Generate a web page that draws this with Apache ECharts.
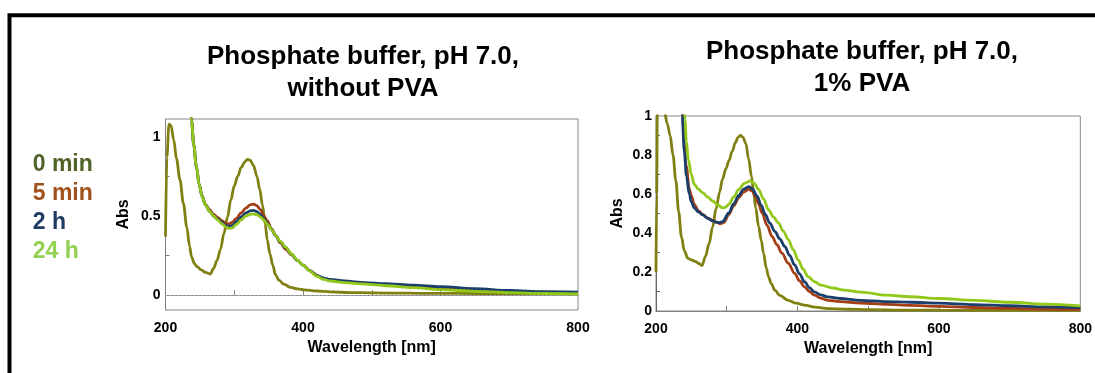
<!DOCTYPE html>
<html><head><meta charset="utf-8">
<script src="https://cdn.jsdelivr.net/npm/echarts@6/dist/echarts.min.js"></script>
<style>html,body{margin:0;padding:0;background:#fff}#c{width:1095px;height:373px}</style>
</head><body><div id="c"></div>
<script>
// ---- labels ----
const seriesNames = ['0 min', '5 min', '2 h', '24 h'];
const titleLeft = 'Phosphate buffer, pH 7.0,\nwithout PVA';
const titleRight = 'Phosphate buffer, pH 7.0,\n1% PVA';
const xName = 'Wavelength [nm]';
const yName = 'Abs';
const xTickLabels = [200, 400, 600, 800];
const yTickLabelsLeft = [0, 0.5, 1];
const yTickLabelsRight = [0, 0.2, 0.4, 0.6, 0.8, 1];

// ---- left panel: without PVA ----
const L0_wl = [200,202,205,208,212,216,221,226,231,235,238,242,246,252,258,265,270,275,280,285,290,295,300,305,310,315,319,323,328,333,337,341,345,348,352,356,360,365,372,382,392,402,420,440,470,500,550,600,650,700,750,800];
const L0_abs = [0.37,0.87,1.08,1.07,0.98,0.86,0.73,0.58,0.43,0.31,0.24,0.2,0.18,0.16,0.145,0.134,0.17,0.22,0.29,0.39,0.49,0.6,0.69,0.75,0.805,0.84,0.857,0.852,0.82,0.75,0.67,0.57,0.45,0.35,0.26,0.19,0.13,0.095,0.07,0.05,0.04,0.034,0.027,0.021,0.017,0.015,0.013,0.012,0.011,0.01,0.01,0.01];

const L5_wl = [234,238,241,245,249,253,258,264,270,276,282,288,292,297,303,310,317,323,328,333,338,343,348,354,360,367,375,383,392,400,410,416,420,430,440,460,490,520,560,600,650,700,750,800];
const L5_abs = [1.3,1.1,0.95,0.81,0.7,0.63,0.575,0.54,0.51,0.49,0.47,0.455,0.45,0.46,0.485,0.52,0.55,0.57,0.575,0.565,0.54,0.5,0.47,0.42,0.38,0.33,0.29,0.255,0.22,0.19,0.155,0.139,0.125,0.105,0.095,0.085,0.075,0.066,0.055,0.045,0.034,0.025,0.018,0.015];

const L2_wl = [234,238,241,245,249,253,258,264,270,276,282,288,292,297,303,310,317,323,328,333,338,343,348,354,360,367,375,383,392,400,410,420,430,440,460,490,520,560,600,650,700,750,800];
const L2_abs = [1.3,1.1,0.95,0.81,0.7,0.625,0.57,0.53,0.5,0.48,0.46,0.44,0.433,0.44,0.465,0.495,0.52,0.532,0.535,0.528,0.51,0.485,0.455,0.415,0.378,0.338,0.3,0.26,0.22,0.19,0.155,0.125,0.108,0.1,0.09,0.08,0.073,0.064,0.055,0.042,0.03,0.023,0.02];

const L24_wl = [235,238,241,245,249,253,258,264,270,276,282,288,292,297,303,310,317,323,328,333,338,343,348,354,360,367,375,383,392,400,410,420,430,440,460,490,520,560,600,650,700,750,800];
const L24_abs = [1.25,1.1,0.95,0.81,0.7,0.625,0.57,0.53,0.5,0.475,0.45,0.43,0.422,0.425,0.447,0.475,0.5,0.51,0.513,0.508,0.495,0.475,0.45,0.415,0.38,0.34,0.302,0.262,0.222,0.19,0.152,0.12,0.1,0.09,0.08,0.07,0.06,0.048,0.035,0.025,0.017,0.011,0.008];

// ---- right panel: 1% PVA ----
const R0_wl = [200,201,202,205,209,212,216,220,224,228,232,236,240,245,250,256,261,265,270,275,280,285,290,294,299,303,308,312,316,319.5,323,327,331,335,338,341,345,349,352,356,359,363,368,375,387,398,410,425,443,470,500,550,600,700,800];
const R0_abs = [0.2,0.6,1.1,1.2,1.1,1.02,0.96,0.9,0.8,0.67,0.51,0.38,0.31,0.27,0.262,0.253,0.243,0.233,0.28,0.345,0.43,0.525,0.61,0.676,0.73,0.77,0.82,0.862,0.89,0.9,0.89,0.86,0.78,0.69,0.607,0.53,0.435,0.36,0.297,0.22,0.176,0.14,0.107,0.08,0.055,0.04,0.03,0.02,0.012,0.009,0.007,0.005,0.004,0.003,0.003];

const R5_wl = [236,238,240,242.6,247.3,250,254,260,266,273,280,286,291,296,303,310,317,324,331,336,340.5,345,350,357,364,371,378,387,396,403,410,417,424,433,443,460,489,526,560,600,650,700,750,800];
const R5_abs = [1.15,0.98,0.86,0.745,0.624,0.59,0.547,0.515,0.495,0.478,0.465,0.455,0.448,0.455,0.495,0.54,0.581,0.61,0.624,0.615,0.589,0.55,0.503,0.44,0.383,0.34,0.297,0.245,0.193,0.155,0.124,0.1,0.081,0.066,0.055,0.048,0.041,0.034,0.029,0.024,0.018,0.013,0.01,0.008];

const R2_wl = [235,237,240,243,247,250,254,260,266,273,280,285,289,294,303,310,317,324,331,336,343,349,354.5,361,368,375,382,389,396,403,410,417,424,433,443,460,489,526,560,600,650,700,750,800];
const R2_abs = [1.15,1.0,0.82,0.693,0.6,0.56,0.529,0.508,0.493,0.475,0.462,0.456,0.453,0.458,0.503,0.55,0.593,0.625,0.638,0.628,0.589,0.54,0.495,0.45,0.408,0.37,0.331,0.285,0.236,0.19,0.15,0.12,0.098,0.083,0.072,0.064,0.055,0.048,0.045,0.04,0.033,0.027,0.021,0.017];

const R24_wl = [239,241,243,245.6,250,254,260,266,273,280,287,293.8,298,303,310,317,325,333.5,339,345,352,359,366,373,380,387,394,401,408,415,424,433,450,466,490,526,560,600,650,700,750,800];
const R24_abs = [1.15,0.98,0.87,0.779,0.7,0.65,0.625,0.607,0.585,0.564,0.545,0.529,0.532,0.547,0.585,0.624,0.655,0.667,0.655,0.624,0.575,0.52,0.482,0.452,0.41,0.366,0.315,0.262,0.215,0.176,0.15,0.133,0.118,0.107,0.097,0.081,0.073,0.064,0.055,0.045,0.035,0.026];

// ---- styling ----
const lineColors = ['#808012', '#a33e16', '#1b3f6c', '#92c81a'];
const legendColors = ['#4f6228', '#a0521c', '#1f3b63', '#92d050'];
const FONT = 'Liberation Sans, Arial, sans-serif';

function pairs(xs, ys) { return xs.map((x, i) => [x, ys[i]]); }

const leftData = [pairs(L0_wl, L0_abs), pairs(L5_wl, L5_abs), pairs(L2_wl, L2_abs), pairs(L24_wl, L24_abs)];
const rightData = [pairs(R0_wl, R0_abs), pairs(R5_wl, R5_abs), pairs(R2_wl, R2_abs), pairs(R24_wl, R24_abs)];

const labelStyle = { color: '#000', fontFamily: FONT, fontWeight: 'bold', fontSize: 14 };
const nameStyle = { color: '#000', fontFamily: FONT, fontWeight: 'bold', fontSize: 16 };

function xAxis(gridIndex) {
  return {
    type: 'value', gridIndex, min: 200, max: 800, interval: 100,
    name: xName, nameLocation: 'middle', nameGap: 30, nameTextStyle: nameStyle,
    axisLine: { show: true, lineStyle: { color: '#808080', width: 1 } },
    axisTick: { show: true, inside: true, length: 5, customValues: [300, 400, 500, 600, 700], lineStyle: { color: '#808080' } },
    axisLabel: { customValues: xTickLabels, margin: 11, ...labelStyle },
    splitLine: { show: false }
  };
}

const titleStyle = { fontFamily: FONT, fontWeight: 'bold', fontSize: 26, lineHeight: 32, color: '#000' };

const option = {
  backgroundColor: '#fff',
  animation: false,
  title: [
    { text: titleLeft, left: 358, top: 36, textAlign: 'center', textStyle: titleStyle },
    { text: titleRight, left: 857, top: 31, textAlign: 'center', textStyle: titleStyle }
  ],
  legend: {
    orient: 'vertical', left: 27.7, top: 153, padding: 0, itemWidth: 0, itemHeight: 0, itemGap: 6,
    selectedMode: false,
    data: seriesNames.map((n, i) => ({ name: n, icon: 'rect', textStyle: { color: legendColors[i] } })),
    textStyle: { fontFamily: FONT, fontWeight: 'bold', fontSize: 23, lineHeight: 20 }
  },
  graphic: [
    { type: 'rect', shape: { x: 9.5, y: 15.3, width: 1300, height: 600 },
      style: { fill: 'none', stroke: '#000', lineWidth: 4 }, silent: true, z: 100 }
  ],
  grid: [
    { left: 165.5, top: 119, width: 412.5, height: 191, show: true, borderColor: '#888', borderWidth: 1, backgroundColor: 'transparent' },
    { left: 656, top: 116, width: 429, height: 195, show: true, borderColor: '#888', borderWidth: 1, backgroundColor: 'transparent' }
  ],
  xAxis: [xAxis(0), xAxis(1)],
  yAxis: [
    { type: 'value', gridIndex: 0, min: -0.093, max: 1.112,
      name: yName, nameLocation: 'middle', nameGap: 34, nameTextStyle: nameStyle,
      axisLine: { show: true, lineStyle: { color: '#808080' } },
      axisTick: { show: true, inside: true, length: 4, customValues: [0.25, 0.75], lineStyle: { color: '#808080' } },
      axisLabel: { customValues: yTickLabelsLeft, margin: 5, ...labelStyle },
      splitLine: { show: false } },
    { type: 'value', gridIndex: 1, min: 0, max: 1,
      name: yName, nameLocation: 'middle', nameGap: 30, nameTextStyle: nameStyle,
      axisLine: { show: true, lineStyle: { color: '#666' } },
      axisTick: { show: true, inside: true, length: 4, customValues: [0.1, 0.3, 0.5, 0.7, 0.9], lineStyle: { color: '#666' } },
      axisLabel: { customValues: yTickLabelsRight, margin: 4, ...labelStyle },
      splitLine: { show: false } }
  ],
  series: []
};

seriesNames.forEach((n, i) => {
  option.series.push({
    name: n, type: 'line', xAxisIndex: 0, yAxisIndex: 0, data: leftData[i],
    showSymbol: false, smooth: 0.35, smoothMonotone: 'x', clip: true,
    lineStyle: { color: lineColors[i], width: 2.8 }, itemStyle: { color: lineColors[i] },
    markLine: i === 0 ? { silent: true, symbol: 'none', label: { show: false },
      lineStyle: { color: '#b0b0b0', type: [2, 2], width: 1 }, data: [{ yAxis: 0 }] } : undefined,
    z: 2 + i
  });
});
seriesNames.forEach((n, i) => {
  option.series.push({
    name: n, type: 'line', xAxisIndex: 1, yAxisIndex: 1, data: rightData[i],
    showSymbol: false, smooth: 0.35, smoothMonotone: 'x', clip: true,
    lineStyle: { color: lineColors[i], width: 2.8 }, itemStyle: { color: lineColors[i] },
    z: 2 + i
  });
});

const chart = echarts.init(document.getElementById('c'), null, { renderer: 'canvas' });
chart.setOption(option);
</script>
</body></html>
